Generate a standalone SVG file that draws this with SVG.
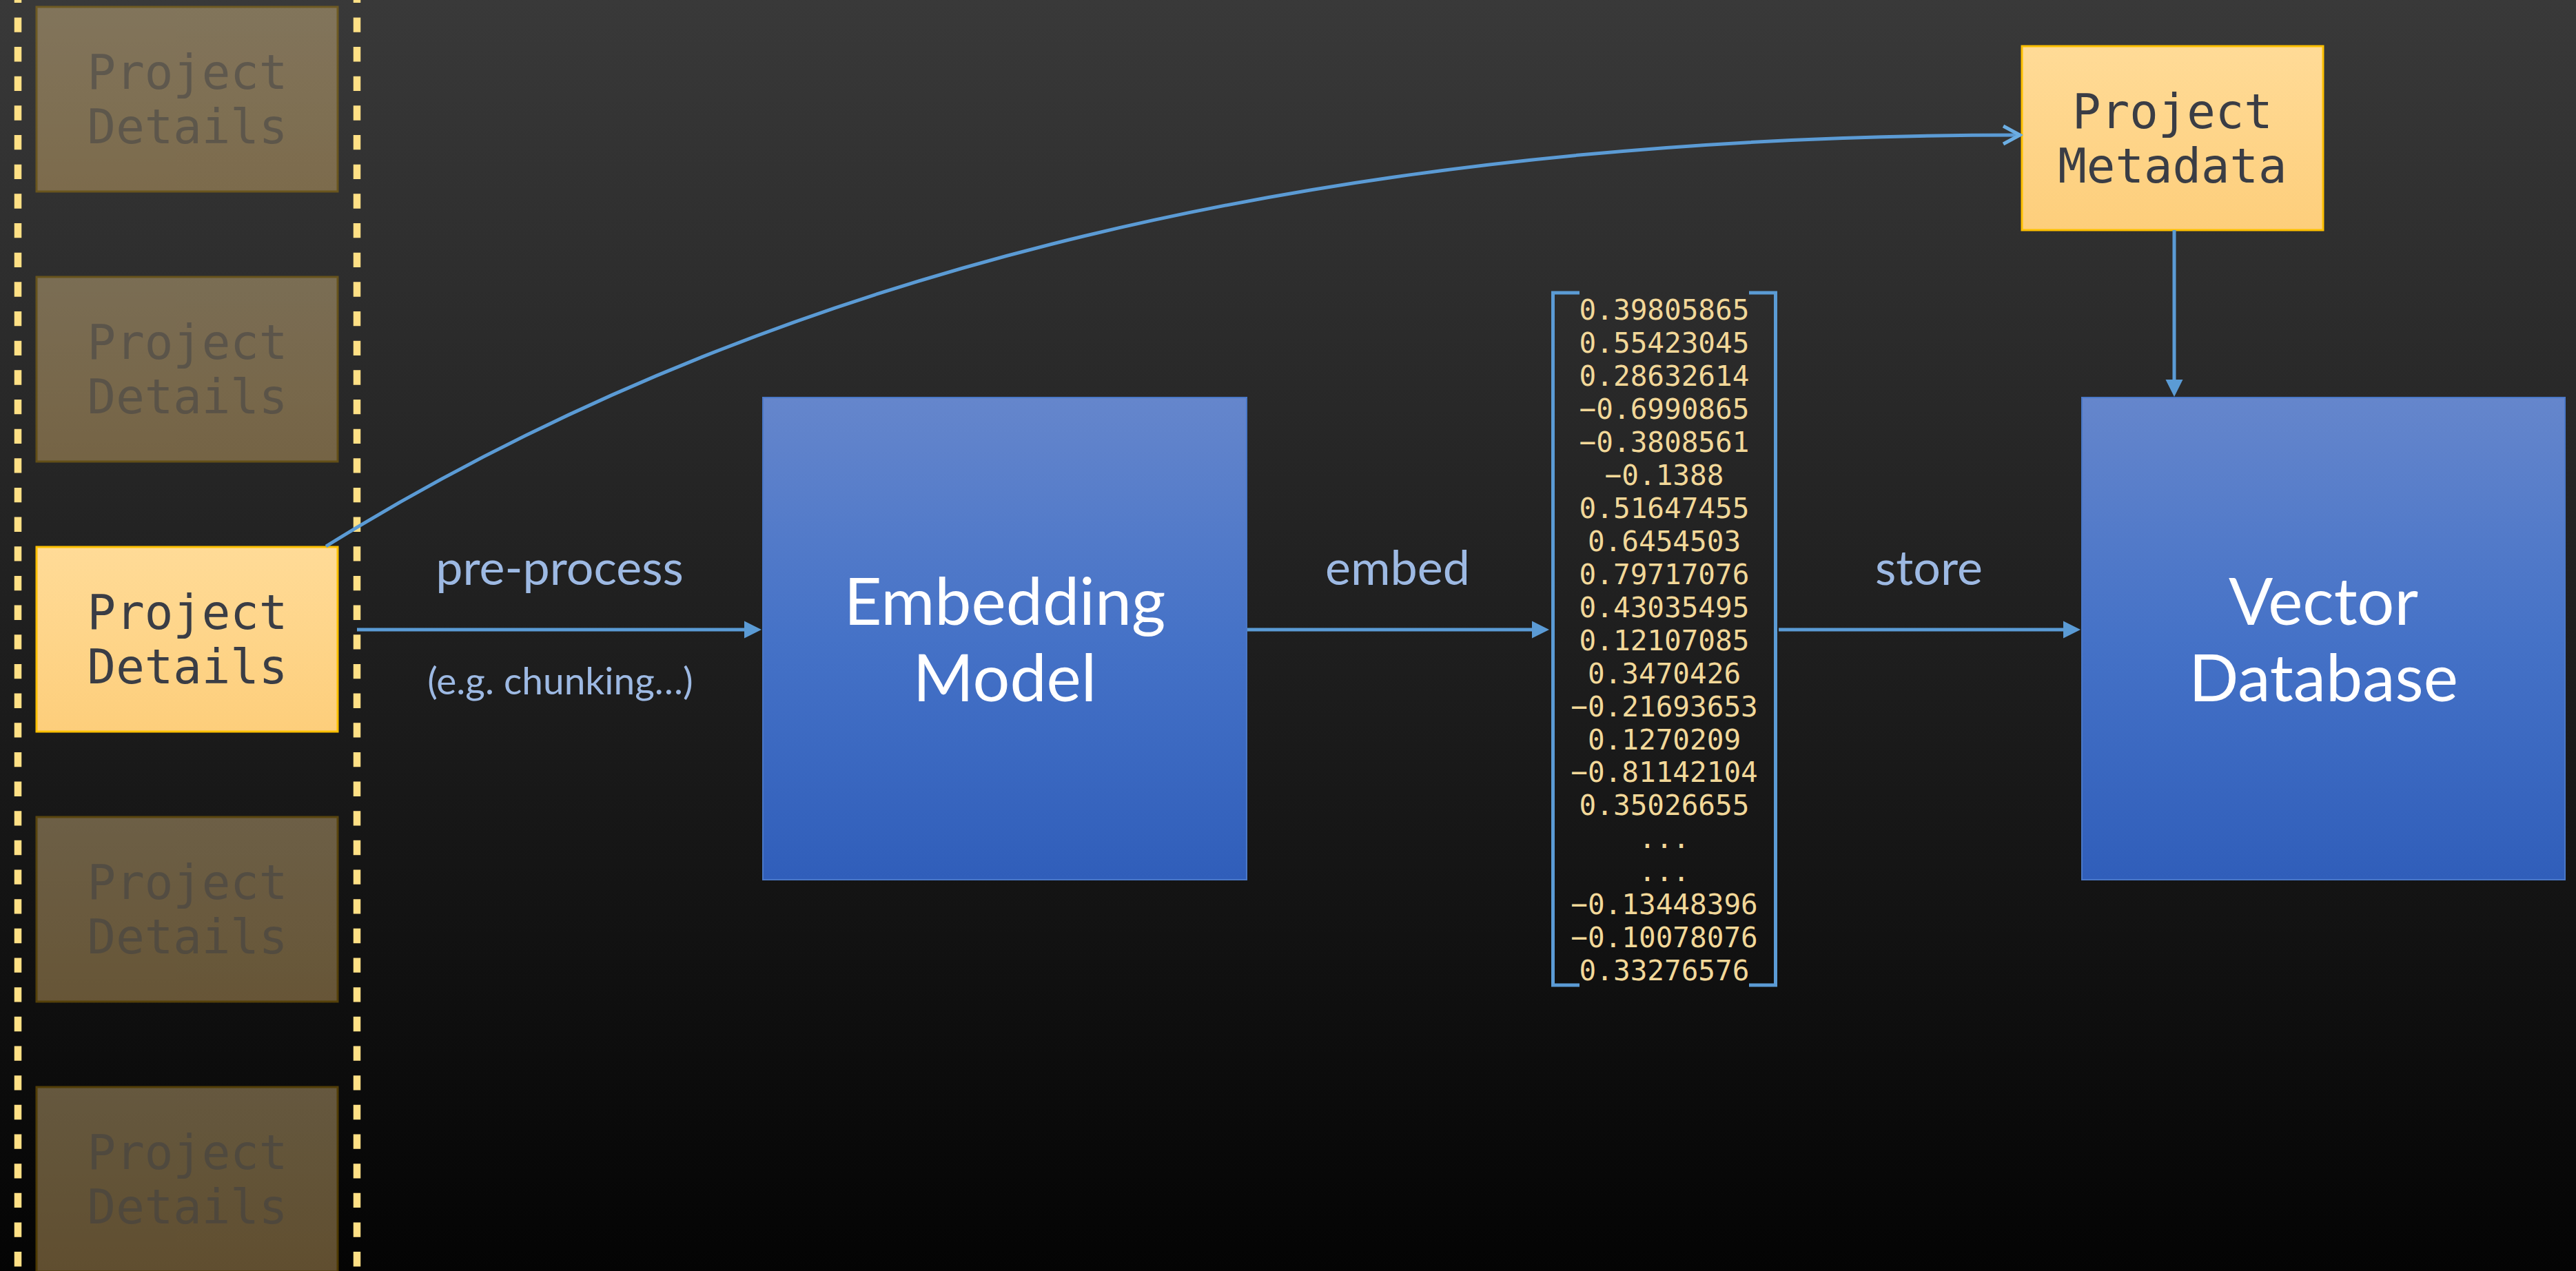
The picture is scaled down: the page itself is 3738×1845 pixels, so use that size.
<svg xmlns="http://www.w3.org/2000/svg" width="3738" height="1845" viewBox="0 0 3738 1845">
  <defs>
    <linearGradient id="bg" x1="0" y1="0" x2="0" y2="1">
      <stop offset="0" stop-color="#393939"/>
      <stop offset="1" stop-color="#040404"/>
    </linearGradient>
    <linearGradient id="gold" x1="0" y1="0" x2="0" y2="1">
      <stop offset="0" stop-color="#FFDB97"/>
      <stop offset="1" stop-color="#FDCE7B"/>
    </linearGradient>
    <linearGradient id="blue" x1="0" y1="0" x2="0" y2="1">
      <stop offset="0" stop-color="#6586CC"/>
      <stop offset="0.5" stop-color="#4572C7"/>
      <stop offset="1" stop-color="#305EBA"/>
    </linearGradient>
    <!-- filled head; tip sits 10 units past the line end -->
    <marker id="tri" markerUnits="userSpaceOnUse" markerWidth="40" markerHeight="30" viewBox="-30 -15 40 30" refX="-10" refY="0" orient="auto">
      <path d="M-25,-12.5 L0,0 L-25,12.5 Z" fill="#5B9BD5"/>
    </marker>
    <!-- open chevron head -->
    <marker id="chev" markerUnits="userSpaceOnUse" markerWidth="34" markerHeight="34" viewBox="-30 -17 34 34" refX="0" refY="0" orient="auto">
      <path d="M-24,-13 L0,0 L-24,13" fill="none" stroke="#6CAEE3" stroke-width="5"/>
    </marker>
  </defs>
  <style>
    .mono { font-family: "DejaVu Sans Mono", "Liberation Mono", monospace; }
    .sans { font-family: Lato, "Open Sans", "Noto Sans", sans-serif; }
    .doc { fill: url(#gold); stroke: #FFC000; stroke-width: 3; }
    .doc-dim { fill: url(#gold); stroke: #C99400; stroke-width: 3; opacity: 0.37; }
    .doc-text { fill: #3A3D45; font-size: 69px; text-anchor: middle; }
    .dim-text { opacity: 0.47; }
    .block { fill: url(#blue); stroke: #4A78C8; stroke-width: 2; }
    .block-text { fill: #FFFFFF; font-size: 95px; text-anchor: middle; }
    .label { fill: #9DB9E3; text-anchor: middle; }
    .num { fill: #F2D899; font-size: 41px; text-anchor: middle; }
    .flow { stroke: #5B9BD5; stroke-width: 5; fill: none; }
    .rail { stroke: #FFE085; stroke-width: 10.5; stroke-dasharray: 21.33 21.33; }
  </style>

  <!-- background -->
  <rect x="0" y="0" width="3738" height="1845" fill="url(#bg)"/>

  <!-- stack of document chunks -->
  <g id="details-1">
    <rect class="doc-dim" x="53" y="10" width="437" height="268"/>
    <text class="mono doc-text dim-text" x="272" y="129">Project</text>
    <text class="mono doc-text dim-text" x="272" y="208">Details</text>
  </g>
  <g id="details-2">
    <rect class="doc-dim" x="53" y="402" width="437" height="268"/>
    <text class="mono doc-text dim-text" x="272" y="521">Project</text>
    <text class="mono doc-text dim-text" x="272" y="600">Details</text>
  </g>
  <g id="details-main">
    <rect class="doc" x="53" y="794" width="437" height="268"/>
    <text class="mono doc-text" x="272" y="913">Project</text>
    <text class="mono doc-text" x="272" y="992">Details</text>
  </g>
  <g id="details-4">
    <rect class="doc-dim" x="53" y="1186" width="437" height="268"/>
    <text class="mono doc-text dim-text" x="272" y="1305">Project</text>
    <text class="mono doc-text dim-text" x="272" y="1384">Details</text>
  </g>
  <g id="details-5">
    <rect class="doc-dim" x="53" y="1578" width="437" height="268"/>
    <text class="mono doc-text dim-text" x="272" y="1697">Project</text>
    <text class="mono doc-text dim-text" x="272" y="1776">Details</text>
  </g>

  <!-- dashed rails framing the stack -->
  <g id="stack-frame">
    <line class="rail" x1="26" y1="-17.27" x2="26" y2="1860"/>
    <line class="rail" x1="518" y1="-17.27" x2="518" y2="1860"/>
  </g>

  <g id="metadata">
    <rect class="doc" x="2934" y="67" width="437" height="267"/>
    <text class="mono doc-text" x="3152.5" y="186">Project</text>
    <text class="mono doc-text" x="3152.5" y="265">Metadata</text>
  </g>

  <g id="embedding-model">
    <rect class="block" x="1107" y="577" width="702" height="700"/>
    <text class="sans block-text" x="1458" y="907">Embedding</text>
    <text class="sans block-text" x="1458" y="1018">Model</text>
  </g>

  <g id="vector-db">
    <rect class="block" x="3021" y="577" width="701" height="700"/>
    <text class="sans block-text" x="3371.5" y="907">Vector</text>
    <text class="sans block-text" x="3371.5" y="1018">Database</text>
  </g>

  <g id="embedding-vector">
    <path class="flow" stroke-width="4" d="M2292,425 H2253.5 V1430 H2292"/>
    <path class="flow" stroke-width="4" d="M2538,425 H2576.5 V1430 H2538"/>
    <g class="mono num">
      <text x="2415" y="464">0.39805865</text>
      <text x="2415" y="512">0.55423045</text>
      <text x="2415" y="560">0.28632614</text>
      <text x="2415" y="608">−0.6990865</text>
      <text x="2415" y="656">−0.3808561</text>
      <text x="2415" y="704">−0.1388</text>
      <text x="2415" y="751.5">0.51647455</text>
      <text x="2415" y="799.5">0.6454503</text>
      <text x="2415" y="847.5">0.79717076</text>
      <text x="2415" y="895.5">0.43035495</text>
      <text x="2415" y="943.5">0.12107085</text>
      <text x="2415" y="991.5">0.3470426</text>
      <text x="2415" y="1039.5">−0.21693653</text>
      <text x="2415" y="1087.5">0.1270209</text>
      <text x="2415" y="1135">−0.81142104</text>
      <text x="2415" y="1183">0.35026655</text>
      <text x="2415" y="1231">...</text>
      <text x="2415" y="1279">...</text>
      <text x="2415" y="1327">−0.13448396</text>
      <text x="2415" y="1375">−0.10078076</text>
      <text x="2415" y="1423">0.33276576</text>
    </g>
  </g>

  <g id="connectors">
    <path class="flow" stroke="#6CAEE3" marker-end="url(#chev)" d="M473,793 C1123,389 1934,196 2931,196"/>
    <line class="flow" x1="518" y1="914" x2="1095" y2="914" marker-end="url(#tri)"/>
    <line class="flow" x1="1810" y1="914" x2="2238" y2="914" marker-end="url(#tri)"/>
    <line class="flow" x1="2581" y1="914" x2="3009" y2="914" marker-end="url(#tri)"/>
    <line class="flow" x1="3155" y1="334" x2="3155" y2="566" marker-end="url(#tri)"/>
    <text class="sans label" font-size="70" x="812" y="849">pre-process</text>
    <text class="sans label" font-size="55" x="813" y="1008">(e.g. chunking…)</text>
    <text class="sans label" font-size="70" x="2028" y="849">embed</text>
    <text class="sans label" font-size="70" x="2799" y="849">store</text>
  </g>
</svg>
